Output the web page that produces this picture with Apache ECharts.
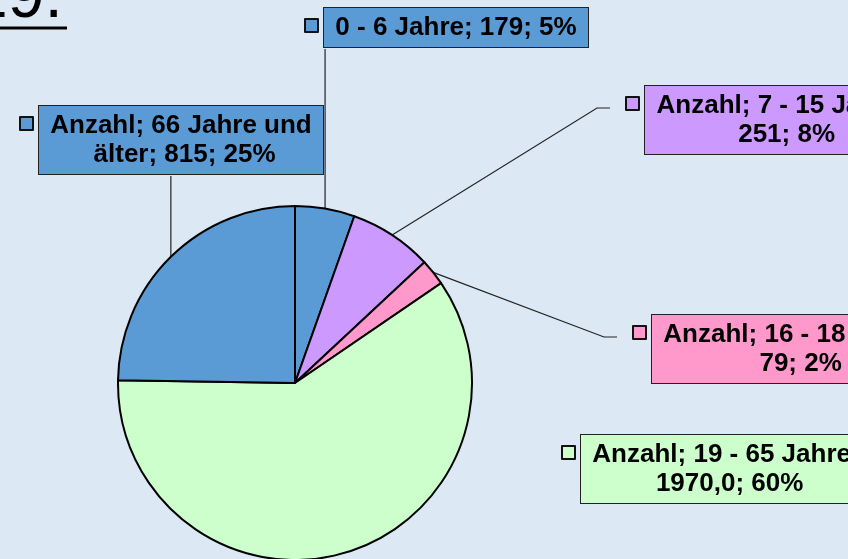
<!DOCTYPE html>
<html>
<head>
<meta charset="utf-8">
<script src="https://cdn.jsdelivr.net/npm/echarts@6/dist/echarts.min.js"></script>
<style>
html, body { margin: 0; padding: 0; background: #dde8f5; }
#main { width: 848px; height: 559px; }
</style>
</head>
<body>
<div id="main"></div>
<script>
var categories = ['0 - 6 Jahre', '7 - 15 Jahre', '16 - 18 Jahre', '19 - 65 Jahre', '66 Jahre und älter'];
var values = [179, 251, 79, 1970, 815];
var valueLabels = ['179', '251', '79', '1970,0', '815'];
var sliceColors = ['#5b9bd5', '#cc99ff', '#ff99cc', '#ccffcc', '#5b9bd5'];

// where the label boxes sit (px), and the wrap width of their text
var boxLeft = [323, 644, 651, 580, 38];
var boxTop = [8, 86, 315, 435, 106];
var boxWidth = [244, 256, 270, 270, 264];

var myChart = echarts.init(document.getElementById('main'));

var pieData = categories.map(function (name, i) {
    return {
        name: name,
        value: values[i],
        itemStyle: {color: sliceColors[i]},
        label: {backgroundColor: sliceColors[i], width: boxWidth[i]},
        labelLine: {show: i !== 3}
    };
});

// small square keys left of each label box
var markers = categories.map(function (name, i) {
    return {
        data: [name],
        left: boxLeft[i] - 19,
        top: boxTop[i] + 10,
        padding: 0,
        icon: 'rect',
        itemWidth: 13,
        itemHeight: 13,
        selectedMode: false,
        formatter: function () { return ''; },
        itemStyle: {borderColor: '#111', borderWidth: 2}
    };
});

var option = {
    backgroundColor: '#dde8f5',
    animation: false,
    graphic: [
        {
            type: 'text', x: -29, y: -1.5,
            style: {
                text: '19.', font: '66px "Liberation Sans"', fill: '#000',
                align: 'left', verticalAlign: 'middle'
            }
        },
        {
            type: 'line',
            shape: {x1: -35, y1: 28, x2: 67, y2: 28},
            style: {stroke: '#000', lineWidth: 3}
        }
    ],
    legend: markers,
    series: [{
        type: 'pie',
        center: [295, 383],
        radius: 177,
        startAngle: 90,
        clockwise: true,
        percentPrecision: 0,
        avoidLabelOverlap: false,
        itemStyle: {borderColor: '#000', borderWidth: 2},
        emphasis: {disabled: true},
        label: {
            position: 'outside',
            formatter: function (p) {
                var pre = p.dataIndex === 0 ? '' : 'Anzahl; ';
                return pre + p.name + '; ' + valueLabels[p.dataIndex] + '; ' + p.percent + '%';
            },
            fontFamily: 'Liberation Sans',
            fontSize: 26,
            fontWeight: 'bold',
            color: '#000',
            lineHeight: 29,
            padding: [5, 10],
            borderColor: '#222',
            borderWidth: 1,
            overflow: 'break',
            align: 'center'
        },
        labelLine: {lineStyle: {color: '#222', width: 1.2}},
        labelLayout: function (p) {
            var i = p.dataIndex;
            var w = p.labelRect.width, h = p.labelRect.height;
            var left = boxLeft[i], top = boxTop[i];
            var res = {x: left + w / 2, y: top, align: 'center', verticalAlign: 'top'};
            var pts = p.labelLinePoints;
            if (pts) {
                var a = pts[0];
                if (a[0] >= left && a[0] <= left + w && a[1] > top + h) {
                    // straight up into the box above
                    res.labelLinePoints = [a, [a[0], top + h], [a[0], top + h]];
                } else {
                    var ex = left - 34, ey = top + 22;
                    res.labelLinePoints = [a, [ex - 13, ey], [ex, ey]];
                }
            }
            return res;
        },
        data: pieData
    }]
};

myChart.setOption(option);
</script>
</body>
</html>
